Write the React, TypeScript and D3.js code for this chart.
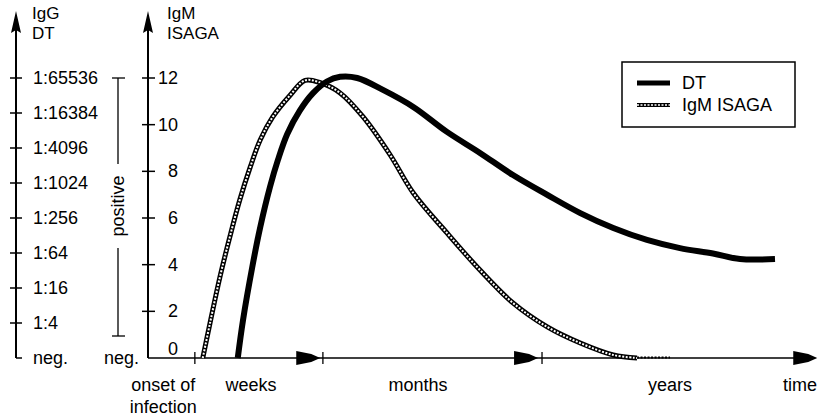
import React from 'react';
import * as d3 from 'd3';

// Left axis (IgG DT titre) categories, bottom to top
const titreLabels = ["neg.", "1:4", "1:16", "1:64", "1:256", "1:1024", "1:4096", "1:16384", "1:65536"];
// Middle axis (IgM ISAGA) ticks
const isagaTicks = [0, 2, 4, 6, 8, 10, 12];

// Curves: time (arbitrary units 0..100) and ISAGA-scale value
const dtTime = [13.6, 14.4, 15.8, 17.0, 18.5, 19.7, 21.1, 23.0, 25.0, 27.1, 29.1, 31.7, 35.6, 40.2, 45.3, 50.3, 55.3, 60.5, 65.5, 70.5, 75.6, 80.6, 85.6, 89.7, 95.0];
const dtValue = [0, 1.63, 3.9, 5.6, 7.35, 8.5, 9.6, 10.6, 11.35, 11.85, 12.05, 12.0, 11.49, 10.76, 9.69, 8.79, 7.84, 6.99, 6.21, 5.57, 5.06, 4.71, 4.48, 4.24, 4.24];

const igmTime = [8.3, 9.4, 10.9, 12.4, 13.9, 15.5, 17.0, 18.9, 21.5, 23.8, 26.1, 29.1, 32.6, 36.7, 40.2, 45.3, 50.3, 55.3, 60.5, 65.5, 70.5, 74.1];
const igmValue = [0, 1.5, 3.47, 5.19, 6.77, 8.19, 9.34, 10.33, 11.25, 11.9, 11.8, 11.36, 10.33, 8.7, 7.07, 5.36, 3.77, 2.36, 1.33, 0.64, 0.13, 0];
const igmTailEnd = 79.1;

// Time axis periods
const periodLabels = ["weeks", "months", "years", "time"];
const periodCenters = [15.6, 40.9, 79.1, 98.8];
const periodArrowTips = [26.1, 59.1, 101.4];
const periodTicks = [7.1, 26.5, 59.7];
const onsetLabel = ["onset of", "infection"];
const onsetCenter = 2.3;

const legendLabels = ["DT", "IgM ISAGA"];

const W = 821, H = 417;
const FONT = "'Liberation Sans', Arial, sans-serif";

export default function App() {
  const x = d3.scaleLinear().domain([0, 100]).range([148, 808]);
  const y = d3.scaleLinear().domain([0, 12]).range([358, 78]);
  const yL = d3.scalePoint<string>().domain(titreLabels).range([358, 78]);

  const leftX = 16;
  const midX = x(0);
  const baseY = y(0);

  const line = d3.line<[number, number]>()
    .x(d => x(d[0]))
    .y(d => y(d[1]))
    .curve(d3.curveCatmullRom.alpha(0.5));

  const dtPts: [number, number][] = dtTime.map((t, i) => [t, dtValue[i]]);
  const igmPts: [number, number][] = igmTime.map((t, i) => [t, igmValue[i]]);
  const dtPath = line(dtPts) || '';
  const igmPath = line(igmPts) || '';
  const tailPath = `M${x(igmTime[igmTime.length - 1])},${baseY - 0.5}L${x(igmTailEnd)},${baseY - 0.5}`;

  const upArrow = (cx: number) => `M${cx},11L${cx - 5},33L${cx},30L${cx + 5},33Z`;
  const rightArrow = (tip: number, cy: number) =>
    `M${tip},${cy}L${tip - 9},${cy - 4}L${tip - 24},${cy - 7}L${tip - 24},${cy + 7}L${tip - 9},${cy + 4}Z`;

  const posTop = yL("1:65536")!;
  const posBottom = 336;
  const posX = 118;
  const posMid = 206;

  return (
    <svg width={W} height={H} style={{ position: 'absolute', left: 0, top: 0, background: '#fff' }}
      fontFamily={FONT} fontSize={18}>
      <rect x={0} y={0} width={W} height={H} fill="#fff" />

      {/* Left axis */}
      <line x1={leftX} x2={leftX} y1={22} y2={baseY} stroke="#000" strokeWidth={2} />
      <path d={upArrow(leftX)} fill="#000" />
      <text x={32} y={19} fill="#000" fontSize={17}>IgG</text>
      <text x={32} y={39} fill="#000" fontSize={17}>DT</text>
      {titreLabels.map((lab, i) => (
        <g key={lab}>
          {i === 0
            ? <line x1={leftX} x2={leftX + 6} y1={yL(lab)!} y2={yL(lab)!} stroke="#000" strokeWidth={1.5} />
            : <line x1={leftX - 6} x2={leftX + 6} y1={yL(lab)!} y2={yL(lab)!} stroke="#000" strokeWidth={1.5} />}
          <text x={33} y={yL(lab)! + 6} fill="#000">{lab}</text>
        </g>
      ))}

      {/* positive bracket */}
      <line x1={posX - 6} x2={posX + 7} y1={posTop} y2={posTop} stroke="#000" strokeWidth={1.3} />
      <line x1={posX - 6} x2={posX + 7} y1={posBottom} y2={posBottom} stroke="#000" strokeWidth={1.3} />
      <line x1={posX} x2={posX} y1={posTop} y2={posMid - 42} stroke="#000" strokeWidth={1.3} />
      <line x1={posX} x2={posX} y1={posMid + 42} y2={posBottom} stroke="#000" strokeWidth={1.3} />
      <text transform={`translate(${posX + 6},${posMid}) rotate(-90)`} textAnchor="middle" fill="#000">positive</text>

      {/* Middle axis */}
      <line x1={midX} x2={midX} y1={22} y2={baseY} stroke="#000" strokeWidth={2} />
      <path d={upArrow(midX)} fill="#000" />
      <text x={167} y={19} fill="#000" fontSize={17}>IgM</text>
      <text x={167} y={39} fill="#000" fontSize={17}>ISAGA</text>
      {isagaTicks.map(v => (
        <g key={v}>
          {v !== 0 && <line x1={midX - 6} x2={midX + 7} y1={y(v)} y2={y(v)} stroke="#000" strokeWidth={1.5} />}
          <text x={178} y={v === 0 ? y(v) - 3 : y(v) + 6} textAnchor="end" fill="#000">{v}</text>
        </g>
      ))}
      <text x={139} y={364} textAnchor="end" fill="#000">neg.</text>

      {/* Time axis */}
      <line x1={midX} x2={x(periodArrowTips[2]) - 2} y1={baseY} y2={baseY} stroke="#000" strokeWidth={1.5} />
      {periodTicks.map((t, i) => (
        <line key={i} x1={x(t)} x2={x(t)} y1={baseY - 6} y2={baseY + 6} stroke="#000" strokeWidth={1.3} />
      ))}
      {periodArrowTips.map((t, i) => (
        <path key={i} d={rightArrow(x(t), baseY)} fill="#000" />
      ))}
      {periodLabels.map((lab, i) => (
        <text key={lab} x={x(periodCenters[i])} y={391} textAnchor="middle" fill="#000">{lab}</text>
      ))}
      <text x={x(onsetCenter)} y={391} textAnchor="middle" fill="#000">{onsetLabel[0]}</text>
      <text x={x(onsetCenter)} y={413} textAnchor="middle" fill="#000">{onsetLabel[1]}</text>

      {/* IgM ISAGA hollow curve */}
      <path d={tailPath} fill="none" stroke="#000" strokeWidth={2} strokeDasharray="2 1.5" />
      <path d={igmPath} fill="none" stroke="#000" strokeWidth={5} />
      <path d={igmPath} fill="none" stroke="#fff" strokeWidth={2} strokeDasharray="2 1.5" />

      {/* DT solid curve */}
      <path d={dtPath} fill="none" stroke="#000" strokeWidth={6} strokeLinejoin="round" />

      {/* Legend */}
      <rect x={622} y={62} width={173} height={65} fill="#fff" stroke="#000" strokeWidth={1.5} />
      <line x1={637} x2={670} y1={83} y2={83} stroke="#000" strokeWidth={5} />
      <text x={682} y={89} fill="#000">{legendLabels[0]}</text>
      <line x1={637} x2={670} y1={105} y2={105} stroke="#000" strokeWidth={4} />
      <line x1={637} x2={670} y1={105} y2={105} stroke="#fff" strokeWidth={1.5} strokeDasharray="2 1.5" />
      <text x={682} y={111} fill="#000">{legendLabels[1]}</text>
    </svg>
  );
}
